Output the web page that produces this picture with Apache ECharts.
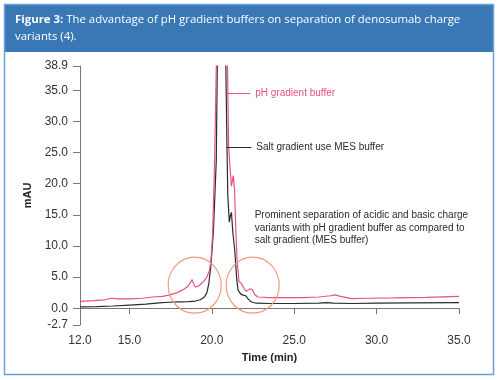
<!DOCTYPE html>
<html><head><meta charset="utf-8">
<script src="https://cdn.jsdelivr.net/npm/echarts@6/dist/echarts.min.js"></script>
<style>html,body{margin:0;padding:0;background:#fff}#c{width:500px;height:380px}</style>
</head><body><div id="c"></div>
<script>
// ---- data ----
var xTicks = [12, 15, 20, 25, 30, 35];
var yTicks = [-2.7, 0, 5, 10, 15, 20, 25, 30, 35, 38.9];
var pinkTime  = [12.0,12.8,13.5,13.9,14.3,15.0,15.8,16.4,17.0,17.4,17.9,18.2,18.5,18.65,18.8,18.9,19.0,19.15,19.3,19.5,19.7,19.85,19.95,20.05,20.17,20.27,20.45,20.6,20.78,20.95,21.02,21.12,21.19,21.3,21.38,21.45,21.53,21.65,21.8,21.95,22.1,22.3,22.45,22.6,22.8,23.5,24.5,25.5,26.5,27.2,27.5,27.8,28.5,29.5,31,33,35];
var pinkValue = [1.1,1.2,1.35,1.6,1.5,1.5,1.6,1.8,1.9,2.1,2.5,2.9,3.4,3.9,4.6,3.9,3.4,3.5,3.8,4.3,5.0,6.0,7.7,12,23.7,38.7,75,110,70,38.9,26,22,19.6,21.3,19,13,7.7,4.3,3.9,3.2,2.7,3.1,3.0,2.2,1.8,1.7,1.7,1.7,1.8,2.0,2.15,1.9,1.55,1.6,1.65,1.75,1.9];
var blackTime  = [12.0,13,14,15,16,16.8,17.4,18,18.6,19.0,19.3,19.55,19.7,19.82,19.95,20.1,20.27,20.33,20.47,20.6,20.72,20.85,20.92,20.97,21.0,21.06,21.12,21.19,21.28,21.39,21.5,21.59,21.75,21.9,22.05,22.2,22.4,22.7,23.5,25,26.5,26.96,27.4,28.5,30,32,35];
var blackValue = [0.2,0.25,0.35,0.5,0.65,0.85,0.95,1.0,1.05,1.15,1.35,1.8,2.5,4,7,12.5,23.7,38.7,75,110,70,38.9,26,18,16.8,13.8,14.8,15.4,12,9.3,5,2.9,2.3,2.1,2.0,1.5,1.0,0.8,0.75,0.75,0.8,0.9,0.8,0.75,0.8,0.85,0.9];
var seriesNames = ['pH gradient buffer', 'Salt gradient use MES buffer'];
var noteText = ['Prominent separation of acidic and basic charge', 'variants with pH gradient buffer as compared to', 'salt gradient (MES buffer)'];
var circleCenters = [[18.96, 3.7], [22.48, 3.7]];

function pairs(t, v) { return t.map(function (x, i) { return [x, v[i]]; }); }

var PINK = '#e8508a', DARK = '#2b2b2b', CIRC = '#f29a7c';
var sans = '"Liberation Sans", Arial, sans-serif';

var chart = echarts.init(document.getElementById('c'), null, {renderer: 'canvas'});
chart.setOption({
  animation: false,
  backgroundColor: '#fff',
  grid: {left: 80, right: 41, top: 66, bottom: 55},
  xAxis: {
    type: 'value', min: 12, max: 35,
    name: 'Time (min)', nameLocation: 'middle', nameGap: 27,
    nameTextStyle: {fontFamily: sans, fontWeight: 'bold', fontSize: 11, color: '#222'},
    axisLine: {lineStyle: {color: '#777', width: 1}},
    axisTick: {show: true, length: 6, customValues: xTicks, lineStyle: {color: '#777'}},
    axisLabel: {customValues: xTicks, margin: 10, fontFamily: sans, fontSize: 12, color: '#333',
      formatter: function (v) { return v.toFixed(1); }},
    splitLine: {show: false}
  },
  yAxis: {
    type: 'value', min: -2.7, max: 38.9,
    name: 'mAU', nameLocation: 'middle', nameGap: 43, nameRotate: 90,
    nameTextStyle: {fontFamily: sans, fontWeight: 'bold', fontSize: 11, color: '#222'},
    axisLine: {show: true, lineStyle: {color: '#777', width: 1}},
    axisTick: {show: true, length: 7, customValues: yTicks, lineStyle: {color: '#777'}},
    axisLabel: {customValues: yTicks, margin: 12, fontFamily: sans, fontSize: 12, color: '#333',
      formatter: function (v) { return v.toFixed(1); }},
    splitLine: {show: false}
  },
  series: [
    {
      name: seriesNames[1], type: 'line', data: pairs(blackTime, blackValue),
      showSymbol: false, clip: true, z: 3,
      lineStyle: {color: DARK, width: 1.2},
      markLine: {
        silent: true, symbol: 'none',
        lineStyle: {color: DARK, width: 1, type: 'solid'},
        label: {show: true, position: 'end', distance: 5, formatter: seriesNames[1],
          fontFamily: sans, fontSize: 10, color: DARK},
        data: [[{coord: [20.9, 25.85]}, {coord: [22.4, 25.85]}]]
      }
    },
    {
      name: seriesNames[0], type: 'line', data: pairs(pinkTime, pinkValue),
      showSymbol: false, clip: true, z: 4,
      lineStyle: {color: PINK, width: 1.2},
      markLine: {
        silent: true, symbol: 'none',
        lineStyle: {color: PINK, width: 1, type: 'solid'},
        label: {show: true, position: 'end', distance: 5, formatter: seriesNames[0],
          fontFamily: sans, fontSize: 10, color: PINK},
        data: [[{coord: [20.95, 34.6]}, {coord: [22.33, 34.6]}]]
      },
      markPoint: {
        silent: true, symbol: 'circle', symbolSize: [53, 56],
        itemStyle: {color: 'rgba(0,0,0,0)', borderColor: CIRC, borderWidth: 1.2},
        label: {show: false},
        data: circleCenters.map(function (c) { return {coord: c}; })
      }
    }
  ]
});

var notePos = chart.convertToPixel({gridIndex: 0}, [22.6, 15.9]);
chart.setOption({
  graphic: [
    {type: 'rect', left: 4, top: 4, shape: {width: 490, height: 48}, style: {fill: '#3a78b5'}, z: 10},
    {type: 'rect', shape: {x: 4.5, y: 4.5, width: 489, height: 370}, style: {fill: 'none', stroke: '#6aa1d6', lineWidth: 1.5}, z: 11},
    {type: 'text', left: 15, top: 11, z: 12,
      style: {text: '{b|Figure 3:} The advantage of pH gradient buffers on separation of denosumab charge\nvariants (4).',
        fill: '#fff', font: '11.4px "Open Sans"', lineHeight: 17,
        rich: {b: {fontWeight: 'bold', fill: '#fff', fontFamily: 'Open Sans', fontSize: 11.4}}}},
    {type: 'text', x: notePos[0], y: notePos[1], z: 12,
      style: {text: noteText.join('\n'), fill: DARK, font: '10px ' + sans, lineHeight: 12.5}}
  ]
});
</script></body></html>
